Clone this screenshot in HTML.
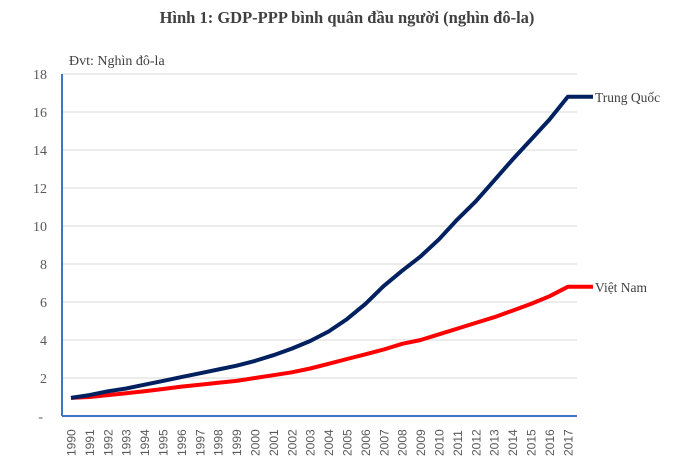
<!DOCTYPE html>
<html><head><meta charset="utf-8"><style>
body{margin:0;background:#fff;}
</style></head><body>
<svg width="680" height="461" viewBox="0 0 680 461" font-family="Liberation Serif, serif">
<text x="347" y="23" text-anchor="middle" font-size="16.5" font-weight="bold" fill="#404040" font-family="Liberation Serif, serif">Hình 1: GDP-PPP bình quân đầu người (nghìn đô-la)</text>
<text x="69" y="65" font-size="14" fill="#404040" font-family="Liberation Serif, serif">Đvt: Nghìn đô-la</text>
<g stroke="#d9d9d9" stroke-width="1">
<line x1="62" x2="577" y1="74" y2="74"/><line x1="62" x2="577" y1="112" y2="112"/><line x1="62" x2="577" y1="150" y2="150"/><line x1="62" x2="577" y1="188" y2="188"/><line x1="62" x2="577" y1="226" y2="226"/><line x1="62" x2="577" y1="264" y2="264"/><line x1="62" x2="577" y1="302" y2="302"/><line x1="62" x2="577" y1="340" y2="340"/><line x1="62" x2="577" y1="378" y2="378"/>
</g>
<line x1="62" y1="74" x2="62" y2="416" stroke="#4472c4" stroke-width="2"/>
<line x1="62" y1="416" x2="577" y2="416" stroke="#4472c4" stroke-width="2"/>
<g font-size="14" fill="#595959" text-anchor="end" font-family="Liberation Serif, serif">
<text x="47" y="79">18</text><text x="47" y="117">16</text><text x="47" y="155">14</text><text x="47" y="193">12</text><text x="47" y="231">10</text><text x="47" y="269">8</text><text x="47" y="307">6</text><text x="47" y="345">4</text><text x="47" y="383">2</text><text x="43" y="421">-</text>
</g>
<g font-size="12" fill="#595959" font-family="Liberation Sans, sans-serif">
<text transform="translate(75.5,456) rotate(-90)">1990</text><text transform="translate(93.9,456) rotate(-90)">1991</text><text transform="translate(112.3,456) rotate(-90)">1992</text><text transform="translate(130.7,456) rotate(-90)">1993</text><text transform="translate(149.1,456) rotate(-90)">1994</text><text transform="translate(167.5,456) rotate(-90)">1995</text><text transform="translate(185.9,456) rotate(-90)">1996</text><text transform="translate(204.3,456) rotate(-90)">1997</text><text transform="translate(222.7,456) rotate(-90)">1998</text><text transform="translate(241.1,456) rotate(-90)">1999</text><text transform="translate(259.5,456) rotate(-90)">2000</text><text transform="translate(277.9,456) rotate(-90)">2001</text><text transform="translate(296.3,456) rotate(-90)">2002</text><text transform="translate(314.7,456) rotate(-90)">2003</text><text transform="translate(333.1,456) rotate(-90)">2004</text><text transform="translate(351.5,456) rotate(-90)">2005</text><text transform="translate(369.9,456) rotate(-90)">2006</text><text transform="translate(388.3,456) rotate(-90)">2007</text><text transform="translate(406.7,456) rotate(-90)">2008</text><text transform="translate(425.1,456) rotate(-90)">2009</text><text transform="translate(443.5,456) rotate(-90)">2010</text><text transform="translate(461.9,456) rotate(-90)">2011</text><text transform="translate(480.3,456) rotate(-90)">2012</text><text transform="translate(498.7,456) rotate(-90)">2013</text><text transform="translate(517.1,456) rotate(-90)">2014</text><text transform="translate(535.5,456) rotate(-90)">2015</text><text transform="translate(553.9,456) rotate(-90)">2016</text><text transform="translate(572.3,456) rotate(-90)">2017</text>
</g>
<polyline fill="none" stroke="#ff0000" stroke-width="4" stroke-linejoin="round" points="71,397.9 89.4,397 107.8,395.1 126.2,393.2 144.6,391.3 163,389 181.4,386.6 199.8,384.7 218.2,382.8 236.6,380.9 255,378 273.4,375.2 291.8,372.3 310.2,368.5 328.6,363.8 347,359 365.4,354.3 383.8,349.5 402.2,343.8 420.6,340 439,334.3 457.4,328.6 475.8,322.9 494.2,317.2 512.6,310.6 531,303.9 549.4,296.3 567.8,286.8 593,286.8"/>
<polyline fill="none" stroke="#002060" stroke-width="4" stroke-linejoin="round" points="71,397.9 89.4,395.1 107.8,391.3 126.2,388.5 144.6,384.7 163,380.9 181.4,377.1 199.8,373.3 218.2,369.5 236.6,365.7 255,360.9 273.4,355.2 291.8,348.6 310.2,341 328.6,331.5 347,319.1 365.4,303.9 383.8,285.9 402.2,270.7 420.6,256.4 439,239.3 457.4,219.4 475.8,201.3 494.2,180.4 512.6,159.5 531,139.6 549.4,119.6 567.8,96.8 593,96.8"/>
<text x="595" y="102" font-size="13.5" fill="#404040" font-family="Liberation Serif, serif">Trung Quốc</text>
<text x="595" y="292" font-size="13.5" fill="#404040" font-family="Liberation Serif, serif">Việt Nam</text>
</svg>
</body></html>
